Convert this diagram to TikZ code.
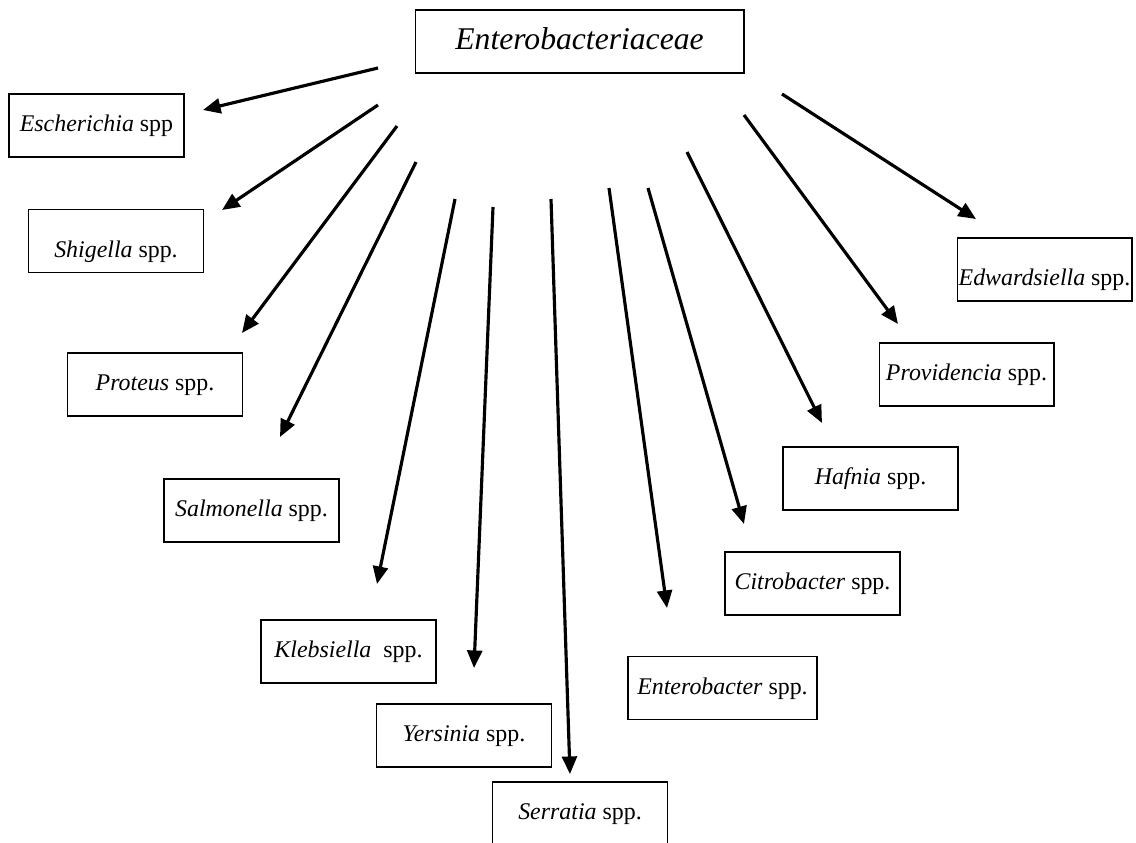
\documentclass[tikz,border=0pt]{standalone}
\usepackage{fontspec}
\setmainfont{Liberation Serif}
\usetikzlibrary{positioning, arrows.meta}

\begin{document}
\begin{tikzpicture}[
    x=0.02cm, y=-0.02cm,
    > = {Triangle[length=10pt, width=8.5pt]}, semithick,
    taxon/.style={rectangle, draw, line width=0.6pt, inner xsep=0pt,
        minimum width=3.5cm, minimum height=1.26cm,
        text height=10pt, text depth=3pt, font=\fontsize{13.6}{16}\selectfont},
    family/.style={taxon, minimum width=6.58cm, text height=13pt, text depth=4pt,
        font=\fontsize{18}{21}\selectfont\itshape},
    link/.style={->, line width=1.8pt}
]
\useasboundingbox (0,0) rectangle (1136,842);

% FAMILY
\node[family] (fam) at (579.5,41.5) {Enterobacteriaceae};

% GENERA, left side
\node[taxon] (esch) at (96.5,125.5) {\textit{Escherichia} spp};
\node[taxon, text height=22pt] (shig) at (116,241) {\textit{Shigella} spp.};
\node[taxon] (prot) at (155,384.5) {\textit{Proteus} spp.};
\node[taxon] (salm) at (251.5,510.5) {\textit{Salmonella} spp.};
\node[taxon] (kleb) at (348.5,651.5) {\textit{Klebsiella}\ \ spp.};
\node[taxon] (yers) at (464,735.5) {\textit{Yersinia} spp.};
\node[taxon] (serr) at (580,813.5) {\textit{Serratia} spp.};

% GENERA, right side
\node[taxon, minimum width=3.78cm] (entb) at (722.5,688) {\textit{Enterobacter} spp.};
\node[taxon] (citr) at (812.5,583.5) {\textit{Citrobacter} spp.};
\node[taxon] (hafn) at (870.5,478.5) {\textit{Hafnia} spp.};
\node[taxon] (prov) at (966.5,374.5) {\textit{Providencia} spp.};
\node[taxon, text height=21pt] (edwa) at (1044.5,269.5) {\textit{Edwardsiella} spp.};

% arrow ends (they stop short of the boxes)
\coordinate (esch-s) at (378,68);   \coordinate (esch-t) at (203,110);
\coordinate (shig-s) at (378,105);  \coordinate (shig-t) at (222,210);
\coordinate (prot-s) at (397,126);  \coordinate (prot-t) at (242,333);
\coordinate (salm-s) at (416,162);  \coordinate (salm-t) at (280,437);
\coordinate (kleb-s) at (455,199);  \coordinate (kleb-t) at (377,584);
\coordinate (yers-s) at (493,207);  \coordinate (yers-t) at (474,668);
\coordinate (serr-s) at (551,199);  \coordinate (serr-t) at (570,774);
\coordinate (entb-s) at (609,188);  \coordinate (entb-t) at (667,608);
\coordinate (citr-s) at (648,188);  \coordinate (citr-t) at (744,524);
\coordinate (hafn-s) at (687,152);  \coordinate (hafn-t) at (822,423);
\coordinate (prov-s) at (744,115);  \coordinate (prov-t) at (898,324);
\coordinate (edwa-s) at (782,94);   \coordinate (edwa-t) at (976,219);

\foreach \g in {esch,shig,prot,salm,kleb,yers,serr,entb,citr,hafn,prov,edwa}
    \draw[link] (\g-s) -- (\g-t);

\end{tikzpicture}
\end{document}
